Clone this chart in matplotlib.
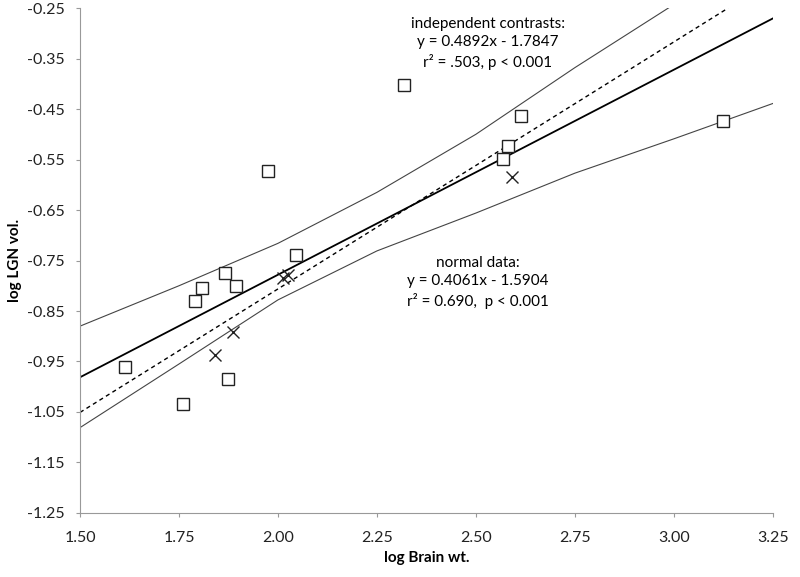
import matplotlib
matplotlib.use("Agg")
import matplotlib.pyplot as plt
import numpy as np

plt.rcParams['font.family'] = ['Lato', 'DejaVu Sans']
plt.rcParams['axes.unicode_minus'] = False

# squares (normal data)
sq_x = [1.614, 1.760, 1.790, 1.808, 1.866, 1.874, 1.894, 1.975, 2.045,
        2.318, 2.568, 2.581, 2.614, 3.124]
sq_y = [-0.961, -1.034, -0.830, -0.804, -0.775, -0.985, -0.800, -0.573, -0.739,
        -0.403, -0.549, -0.523, -0.463, -0.474]

# crosses
cx = [1.841, 1.887, 2.012, 2.026, 2.592]
cy = [-0.938, -0.892, -0.785, -0.779, -0.585]

# regression lines (from the equations on the chart)
normal_slope, normal_icpt = 0.4061, -1.5904
ic_slope, ic_icpt = 0.4892, -1.7847

# confidence band
ci_x = [1.50, 1.75, 2.00, 2.25, 2.50, 2.75, 3.00, 3.25]
ci_upper = [-0.880, -0.800, -0.716, -0.615, -0.500, -0.368, -0.243, -0.100]
ci_lower = [-1.081, -0.955, -0.828, -0.731, -0.656, -0.577, -0.509, -0.439]

fig = plt.figure(figsize=(8, 5.77), dpi=100)
ax = fig.add_axes([0.1, 0.111, 0.866, 0.875])

ax.plot(ci_x, ci_upper, color='#444444', lw=0.8)
ax.plot(ci_x, ci_lower, color='#444444', lw=0.8)
ax.axline((0, normal_icpt), slope=normal_slope, color='black', lw=1.3)
ax.axline((0, ic_icpt), slope=ic_slope, color='black', lw=1.0, ls=(0, (3, 2.5)))

ax.plot(sq_x, sq_y, 's', ms=8, mfc='white', mec='#222222', mew=1.0, ls='none')
ax.plot(cx, cy, 'x', ms=8, color='#222222', mew=1.0, ls='none')

ax.set_xlim(1.5, 3.25)
ax.set_ylim(-1.25, -0.25)
ax.set_xticks(np.arange(1.5, 3.26, 0.25))
ax.set_yticks(np.arange(-1.25, -0.24, 0.1))
ax.xaxis.set_major_formatter(plt.FormatStrFormatter('%.2f'))
ax.yaxis.set_major_formatter(plt.FormatStrFormatter('%.2f'))

for s in ['top', 'right']:
    ax.spines[s].set_visible(False)
for s in ['left', 'bottom']:
    ax.spines[s].set_color('#999999')
ax.tick_params(direction='out', length=3, color='#999999', labelsize=11.5,
               labelcolor='#222222')
ax.tick_params(axis='y', pad=8)
ax.tick_params(axis='x', pad=10)

ax.set_xlabel('log Brain wt.', fontsize=11, fontweight='bold')
ax.set_ylabel('log LGN vol.', fontsize=11, fontweight='bold')
ax.xaxis.set_label_coords(0.5, -0.076)
ax.yaxis.set_label_coords(-0.084, 0.5)

ax.text(2.53, -0.268, 'independent contrasts:\ny = 0.4892x - 1.7847\nr² = .503, p < 0.001',
        ha='center', va='top', fontsize=11, linespacing=1.35)
ax.text(2.505, -0.742, 'normal data:\ny = 0.4061x - 1.5904\nr² = 0.690,  p < 0.001',
        ha='center', va='top', fontsize=11, linespacing=1.35)

fig.savefig('out.png', dpi=100)
